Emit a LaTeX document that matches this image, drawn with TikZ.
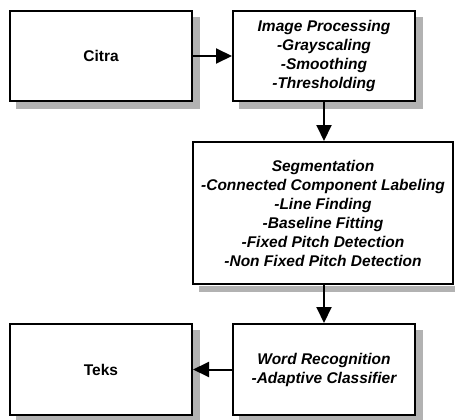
\documentclass[tikz,border=0pt]{standalone}
\usepackage{fontspec}
\setmainfont{Liberation Sans}
\usetikzlibrary{arrows.meta}
\begin{document}
\begin{tikzpicture}[x=1pt,y=-1pt,
    box/.style={draw,line width=2pt,fill=white,align=center,inner sep=0pt,
      font=\fontsize{15.5}{19}\selectfont\bfseries},
    proc/.style={box,font=\fontsize{15.5}{19}\selectfont\bfseries\itshape},
    flow/.style={-{Triangle[length=16pt,width=15pt]},line width=2pt}]
    \useasboundingbox (0,0) rectangle (455,420);
    % Shadows
    \fill[black!30] (16,17) rectangle (200,109);
    \fill[black!30] (239,17) rectangle (423,109);
    \fill[black!30] (239,330) rectangle (423,420);
    \fill[black!30] (16,330) rectangle (200,420);
    % Boxes
    \node[box,minimum width=182pt,minimum height=90pt] (citra) at (101,56) {Citra};
    \node[proc,minimum width=182pt,minimum height=90pt] (improc) at (324,56)
      {Image Processing\\-Grayscaling\\-Smoothing\\-Thresholding};
    \node[proc,minimum width=260pt,minimum height=142pt] (segment) at (323,213)
      {Segmentation\\-Connected Component Labeling\\-Line Finding\\-Baseline Fitting\\-Fixed Pitch Detection\\-Non Fixed Pitch Detection};
    \node[proc,minimum width=182pt,minimum height=91pt] (wordrec) at (324,369.5)
      {Word Recognition\\-Adaptive Classifier};
    \node[box,minimum width=182pt,minimum height=91pt] (teks) at (101,369.5) {Teks};
    % Shadow under the wide box
    \fill[black!30] (199,286) rectangle (455,292);
    % Arrows
    \draw[flow] (citra) -- (improc);
    \draw[flow] (improc) -- (improc|-segment.north);
    \draw[flow] (improc|-segment.south) -- (wordrec);
    \draw[flow] (wordrec) -- (teks);
\end{tikzpicture}
\end{document}
